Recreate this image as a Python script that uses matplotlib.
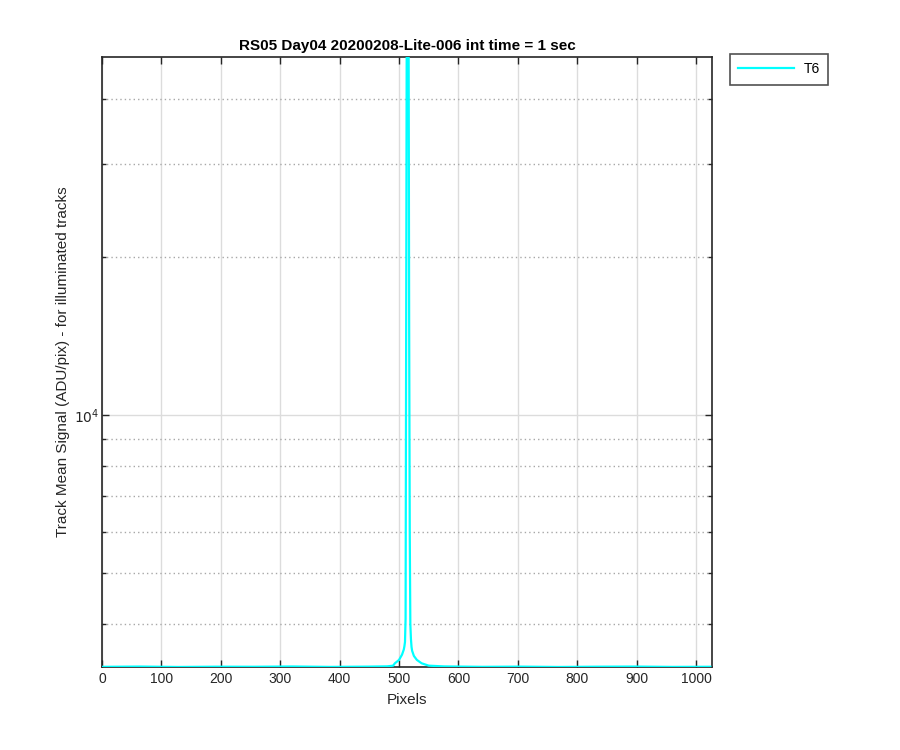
import numpy as np
import matplotlib.pyplot as plt
from matplotlib.ticker import LogLocator, NullFormatter, FixedLocator

plt.rcParams['font.family'] = ['Liberation Sans', 'DejaVu Sans']

# baseline samples of the track signal (ADU/pix)
base_x = [0, 64, 128, 192, 256, 320, 384, 448, 480, 490]
base_y = [3318, 3322, 3316, 3320, 3319, 3323, 3317, 3321, 3325, 3335]
# peak around pixel 512
peak_x = [493, 500, 505, 508, 509, 510, 511, 512, 513, 514, 515, 516, 517,
          518, 519, 520, 521, 522, 525, 530, 538, 550]
peak_y = [3370, 3420, 3500, 3580, 3630, 3700, 4100, 15000, 60000, 60000,
          60000, 60000, 15000, 6000, 4000, 3750, 3620, 3560, 3480, 3420,
          3370, 3335]
tail_x = [576, 640, 704, 768, 832, 896, 960, 1024]
tail_y = [3324, 3318, 3321, 3316, 3320, 3322, 3317, 3319]

pix = base_x + peak_x + tail_x
sig = base_y + peak_y + tail_y

fig = plt.figure(figsize=(9, 7.5), dpi=100)
ax = fig.add_axes([0.1133, 0.1107, 0.678, 0.8133])

ax.plot(pix, sig, color='cyan', lw=1.6, label='T6', zorder=3)
ax.set_yscale('log')
ax.set_xlim(0, 1027)
ax.set_ylim(min(sig), 48000)

ax.set_xticks(np.arange(0, 1001, 100))
ax.yaxis.set_major_locator(FixedLocator([1e4]))
ax.yaxis.set_minor_locator(LogLocator(base=10, subs=np.arange(2, 10)))
ax.yaxis.set_minor_formatter(NullFormatter())
ax.set_yticklabels(['$10^4$'])

ax.grid(which='major', color='#dcdcdc', lw=1.0, ls='-')
ax.grid(which='minor', axis='y', color='#a8a8a8', lw=1.0, ls=(0, (1, 2.2)))
ax.set_axisbelow(True)

ax.tick_params(which='both', direction='in', top=True, right=True,
               labelsize=10, colors='#262626', width=1.0)
ax.tick_params(which='major', length=5)
ax.tick_params(which='minor', length=3)
ax.tick_params(axis='y', pad=2)
for s in ax.spines.values():
    s.set_color('#262626')
    s.set_linewidth(1.2)

ax.set_title('RS05 Day04 20200208-Lite-006 int time = 1 sec',
             fontsize=11, fontweight='bold', pad=5)
ax.set_xlabel('Pixels', fontsize=11, color='#262626', labelpad=5)
ax.set_ylabel('Track Mean Signal (ADU/pix) - for illuminated tracks',
              fontsize=11, color='#262626', labelpad=3)

leg = fig.legend(loc='upper left', bbox_to_anchor=(0.811, 0.928),
                 fontsize=10, handlelength=4.0, fancybox=False,
                 borderpad=0.6, handletextpad=0.7, borderaxespad=0)
leg.get_frame().set_edgecolor('#262626')
leg.get_frame().set_linewidth(1.2)

fig.savefig('out.png', dpi=100)
